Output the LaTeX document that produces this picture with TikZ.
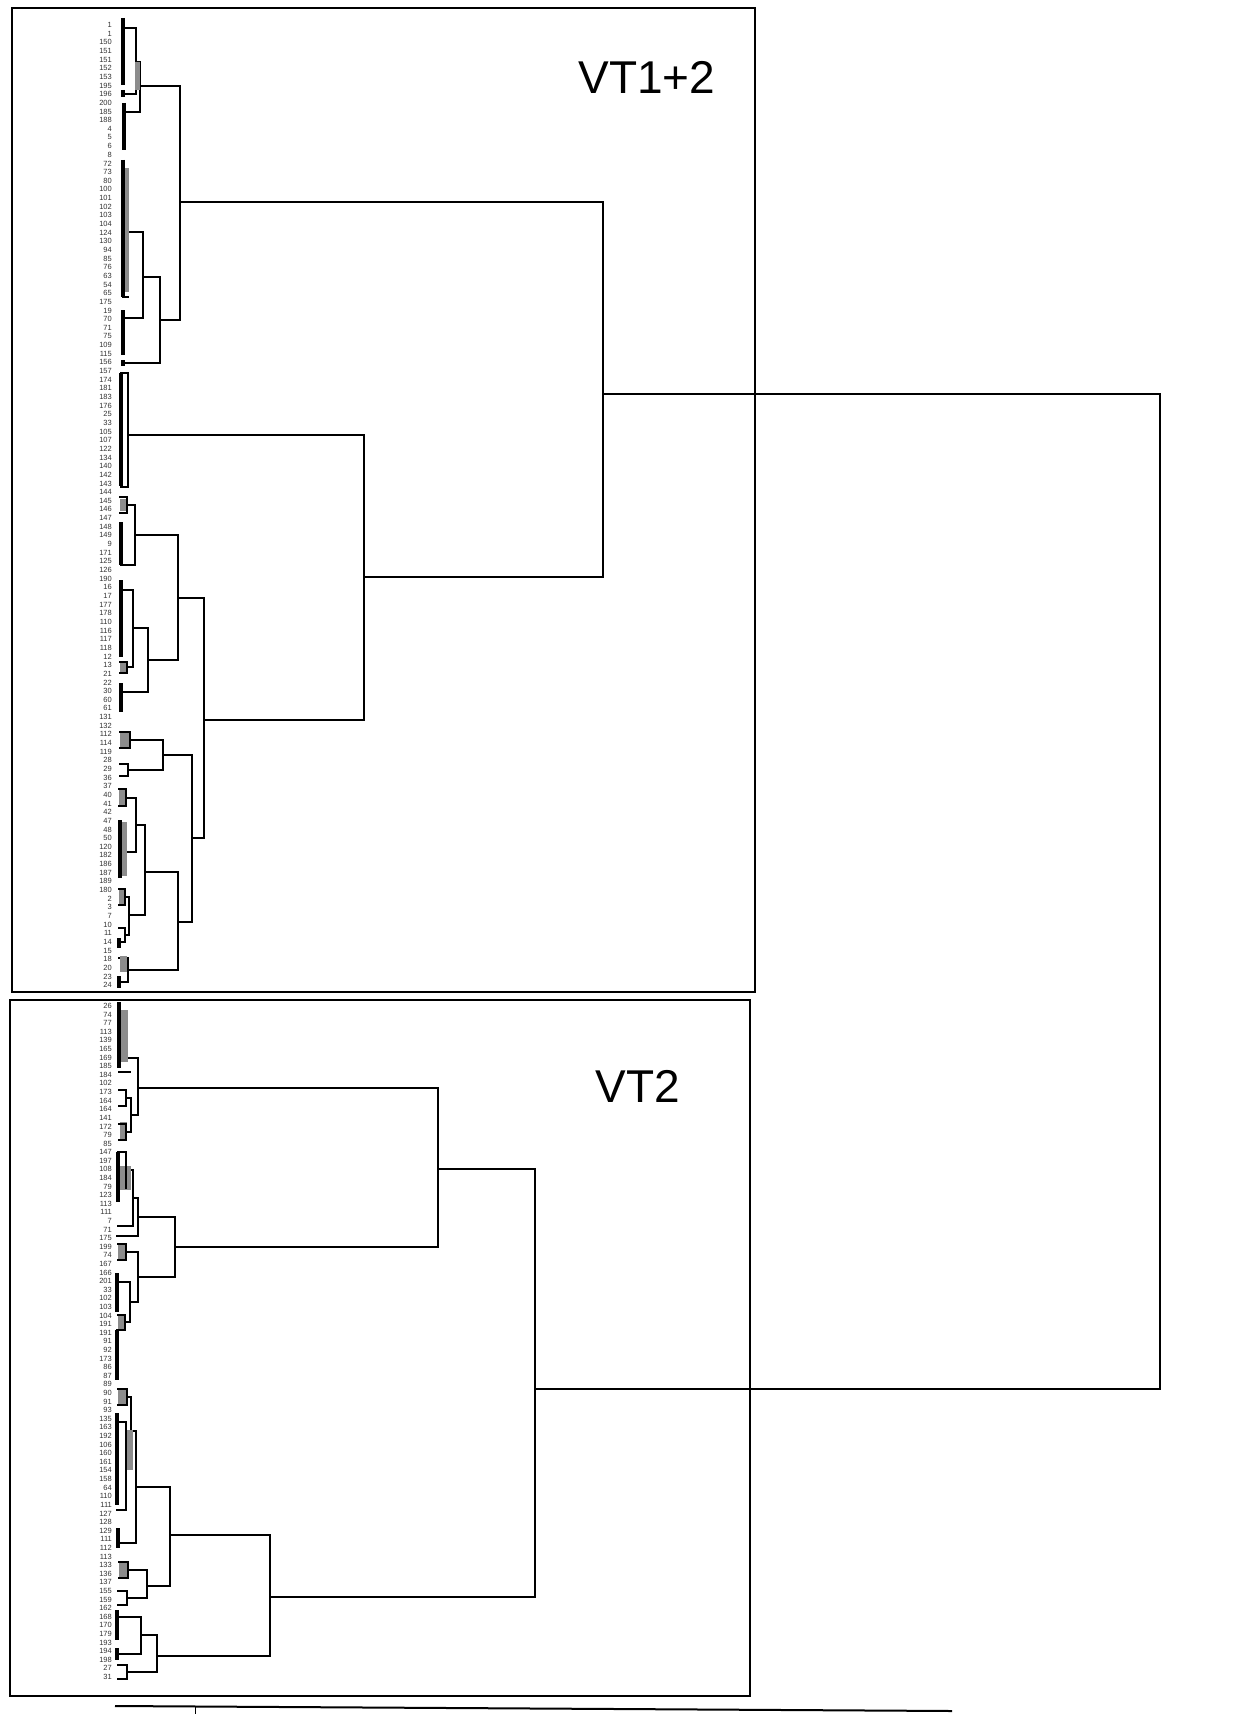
\documentclass[tikz,border=0pt]{standalone}
\usepackage{fontspec}
\setmainfont{Liberation Sans}
\newcommand{\Brk}[5]{\draw[br] (#1,#2) -- (#5,#2) -- (#5,#4) -- (#3,#4);}
\newcommand{\Bar}[3]{\draw[leafbar] (#1,#2) -- (#1,#3);}
\begin{document}
\begin{tikzpicture}[x=1pt,y=-1pt]
\tikzset{
  br/.style={line width=2pt, line join=miter, line cap=rect},
  leafbar/.style={line width=3.4pt},
  frame/.style={line width=1.4pt},
  gry/.style={fill=black!45, draw=none},
  lbl/.style={anchor=east, inner sep=0pt, font=\fontsize{7.5}{8}\selectfont, text=black!80},
  title/.style={font=\fontsize{46}{50}\selectfont}
}
\useasboundingbox (0,0) rectangle (1246,1715);
% frames
\draw[frame] (12,8) rectangle (755,992);
\draw[frame] (10,1000) rectangle (750,1696);
\node[title] (vt12) at (647,77) {VT1+2};
\node[title] (vt2) at (638,1086) {VT2};
% axis
\draw[line width=2pt] (115,1706) -- (952,1711);
\draw[line width=1pt] (195,1707) -- (195,1714);

% ---------- main joins
\Brk{603}{394}{535}{1389}{1160}
% ---------- top box
\Brk{180}{202}{364}{577}{603}
\Brk{140}{86}{160}{320}{180}
\Brk{136}{62}{124}{112}{140}
\Brk{123}{28}{123}{94}{136}
\fill[gry] (135,62) rectangle (140,90);
\Bar{123}{18}{85}
\Bar{123}{90}{97}
\Bar{124}{103}{150}
\Brk{143}{277}{123}{363}{160}
\Brk{128}{232}{123}{318}{143}
\fill[gry] (124,168) rectangle (129,292);
\Bar{123}{160}{297}
\draw[br] (123,297) -- (128,297);
\Bar{123}{310}{355}
\Bar{123}{360}{366}
% B
\Brk{128}{435}{204}{720}{364}
\draw[br] (121,373) rectangle (128,487);
\Bar{121}{373}{486}
% C
\Brk{178}{598}{192}{838}{204}
\Brk{135}{535}{148}{660}{178}
\Brk{127}{505}{121}{565}{135}
\fill[gry] (120,499) rectangle (127,511);
\Brk{120}{497}{120}{513}{127}
\Bar{121}{522}{565}
\Brk{133}{628}{121}{692}{148}
\Brk{121}{590}{127}{667}{133}
\Bar{121}{580}{657}
\fill[gry] (120,663) rectangle (127,672);
\Brk{120}{662}{120}{673}{127}
\Bar{121}{683}{712}
\Brk{163}{755}{178}{922}{192}
\Brk{130}{740}{128}{770}{163}
\fill[gry] (120,733) rectangle (130,747);
\Brk{120}{732}{120}{748}{130}
\Brk{120}{764}{120}{776}{128}
\Brk{145}{872}{128}{970}{178}
\Brk{136}{825}{129}{915}{145}
\Brk{126}{798}{127}{852}{136}
\fill[gry] (119,790) rectangle (126,805);
\Brk{119}{789}{119}{806}{126}
\fill[gry] (120,822) rectangle (127,876);
\Bar{120}{820}{878}
\Brk{125}{897}{125}{935}{129}
\fill[gry] (119,890) rectangle (125,904);
\Brk{119}{889}{119}{905}{125}
\Brk{119}{928}{119}{942}{125}
\Bar{119}{938}{948}
\Brk{119}{958}{119}{982}{128}
\fill[gry] (120,956) rectangle (127,972);
\Bar{119}{976}{988}

% ---------- bottom box
\Brk{438}{1169}{270}{1597}{535}
\Brk{138}{1088}{175}{1247}{438}
\Brk{127}{1058}{131}{1115}{138}
\fill[gry] (119,1010) rectangle (128,1062);
\Bar{119}{1002}{1068}
\draw[br] (119,1072) -- (130,1072);
\Brk{126}{1098}{126}{1132}{131}
\Brk{119}{1090}{119}{1106}{126}
\fill[gry] (120,1122) rectangle (127,1140);
\Brk{119}{1124}{119}{1140}{126}
\Brk{138}{1217}{138}{1277}{175}
\Brk{133}{1198}{117}{1236}{138}
\Brk{126}{1170}{118}{1226}{133}
\fill[gry] (119,1166) rectangle (131,1190);
\Bar{118}{1152}{1202}
\draw[br] (118,1152) -- (126,1152) -- (126,1188);
\Brk{126}{1252}{130}{1302}{138}
\fill[gry] (118,1245) rectangle (126,1259);
\Brk{118}{1244}{118}{1260}{126}
\Brk{117}{1282}{125}{1322}{130}
\Bar{117}{1273}{1312}
\fill[gry] (118,1316) rectangle (125,1330);
\Brk{118}{1315}{117}{1330}{125}
\Bar{117}{1330}{1380}
% E
\Brk{170}{1535}{157}{1656}{270}
\Brk{136}{1487}{147}{1586}{170}
\Brk{131}{1431}{118}{1543}{136}
\Brk{127}{1397}{126}{1466}{131}
\fill[gry] (118,1390) rectangle (127,1404);
\Brk{118}{1389}{118}{1405}{127}
\Brk{117}{1422}{117}{1510}{126}
\Bar{117}{1413}{1505}
\fill[gry] (127,1430) rectangle (133,1470);
\Bar{118}{1528}{1548}
\Brk{128}{1570}{127}{1598}{147}
\fill[gry] (119,1563) rectangle (128,1577);
\Brk{119}{1562}{119}{1578}{128}
\Brk{118}{1591}{118}{1605}{127}
\Brk{141}{1635}{127}{1672}{157}
\Brk{117}{1617}{117}{1654}{141}
\Bar{117}{1610}{1640}
\Bar{117}{1648}{1660}
\Brk{118}{1665}{118}{1679}{127}

% ---------- leaf labels
\foreach \t [count=\i] in {1,1,150,151,151,152,153,195,196,200,185,188,4,5,6,8,72,73,80,100,101,102,103,104,124,130,94,85,76,63,54,65,175,19,70,71,75,109,115,156,157,174,181,183,176,25,33,105,107,122,134,140,142,143,144,145,146,147,148,149,9,171,125,126,190,16,17,177,178,110,116,117,118,12,13,21,22,30,60,61,131,132,112,114,119,28,29,36,37,40,41,42,47,48,50,120,182,186,187,189,180,2,3,7,10,11,14,15,18,20,23,24}
  \node[lbl] (ta\i) at (112,{25+8.65*(\i-1)}) {\t};
\foreach \t [count=\i] in {26,74,77,113,139,165,169,185,184,102,173,164,164,141,172,79,85,147,197,108,184,79,123,113,111,7,71,175,199,74,167,166,201,33,102,103,104,191,191,91,92,173,86,87,89,90,91,93,135,163,192,106,160,161,154,158,64,110,111,127,128,129,111,112,113,133,136,137,155,159,162,168,170,179,193,194,198,27,31}
  \node[lbl] (tb\i) at (112,{1006+8.6*(\i-1)}) {\t};
\end{tikzpicture}
\end{document}
